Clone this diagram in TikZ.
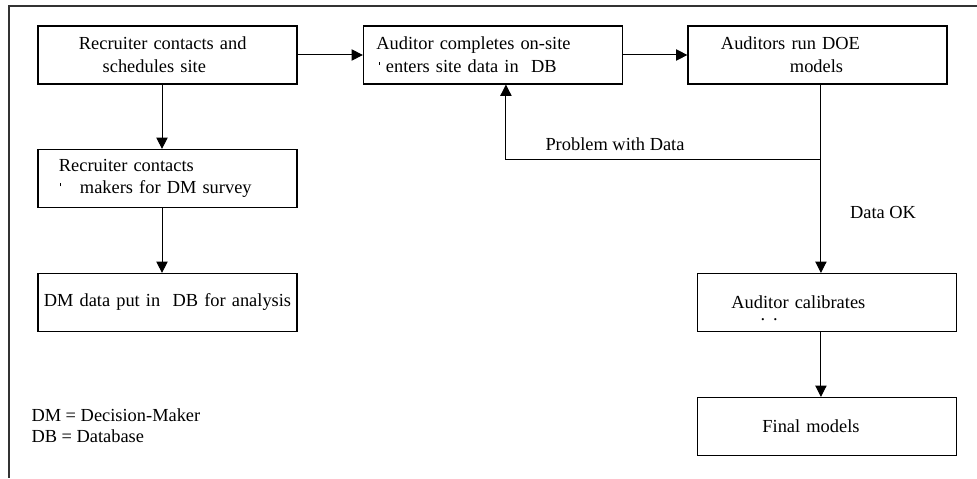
\documentclass[tikz,border=0pt]{standalone}
\usepackage{fontspec}
\setmainfont{Liberation Serif}
\usetikzlibrary{positioning,arrows.meta}
\tikzset{box/.style = {draw, line width = 0.85pt, minimum width = 194.25pt, minimum height = 43.5pt, inner sep = 0pt, text width = #1, align = left}}
\newcommand{\smudge}{\rule[5.6pt]{0.6pt}{2.4pt}}

\begin{document}
\begin{tikzpicture}[>= {Triangle[length=8.5pt, width=8.5pt]}, on grid, font = \fontsize{13.8pt}{17pt}\selectfont, line width = 0.75pt]
	\useasboundingbox (0pt,0pt) rectangle (732.75pt,-358.5pt);
	\draw[line width = 1pt, black!80] (732.75pt,-4.5pt) -- (6.75pt,-4.5pt) -- (6.75pt,-358.5pt);
	\node[box = 132.75pt] (rec) at (125.6pt,-41.25pt) {Recruiter contacts and\\ \hspace*{17.8pt}schedules site};
	\node[box = 174.75pt] (aud) [right = 244.1pt of rec] {Auditor completes on-site\\ \hspace*{2pt}\smudge\hspace{4.5pt}enters site data in\ \ DB};
	\node[box = 144.75pt] (doe) [right = 243.4pt of aud] {Auditors run DOE\\ \hspace*{51.75pt}models};
	\node[box = 162.75pt] (dmk) [below = 92.6pt of rec] {Recruiter contacts\\ \hspace*{0.75pt}\smudge\hspace{14.4pt}makers for DM survey};
	\node[box = 192pt, align = center] (dmd) [below = 93pt of dmk] {DM data put in\ \ DB for analysis};
	\node[box = 143.25pt] (cal) [below right = 185.6pt and 7.1pt of doe] {Au\rlap{\smash{\raisebox{-8.5pt}{\hspace{5pt}.\hspace{6pt}.}}}ditor calibrates};
	\node[box = 96.75pt] (fin) [below = 93pt of cal] {Final models};
	\coordinate (split) at ([xshift=2.6pt, yshift=-56.25pt]doe.south);
	\path[->] (rec) edge (aud);
	\path[->] (aud) edge (doe);
	\path[->] ([xshift=-4.1pt]rec.south) edge ([xshift=-4.1pt]dmk.north);
	\path[->] ([xshift=-4.1pt]dmk.south) edge ([xshift=-4.1pt]dmd.north);
	\path[->] ([xshift=2.6pt]doe.south) edge ([xshift=2.6pt]doe.south |- cal.north);
	\draw[->] (split) -| ([xshift=9.75pt]aud.south);
	\path[->] ([xshift=-4.5pt]cal.south) edge ([xshift=-4.5pt]fin.north);
	\node[anchor = base] (prob) at (461.25pt,-112.5pt) {Problem with Data};
	\node[anchor = base] (ok) at (662.25pt,-163.5pt) {Data OK};
	\node[anchor = base west, align = left, inner sep = 0pt, font = \fontsize{13.8pt}{15.75pt}\selectfont] (legend) at (23.25pt,-331.5pt) {DM = Decision-Maker\\ DB = Database};
\end{tikzpicture}
\end{document}
